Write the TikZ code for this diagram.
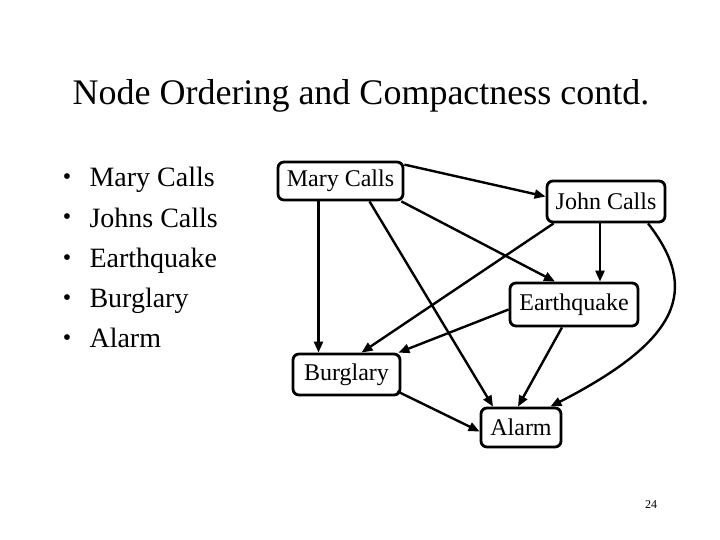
\documentclass[tikz,border=0pt]{standalone}
\usepackage{fontspec}
\setmainfont{Liberation Serif}
\usetikzlibrary{arrows.meta}
\begin{document}
\begin{tikzpicture}[x=1pt,y=-1pt,
  box/.style={draw=black,line width=2.8pt,rounded corners=6pt,fill=white,inner sep=0pt,font=\fontsize{24}{28}\selectfont},
  arr/.style={line width=2.4pt,-{Triangle[length=11pt,width=9pt]}},
  bl/.style={anchor=base west,font=\fontsize{28}{32}\selectfont}]
\useasboundingbox[fill=white] (0,0) rectangle (720,540);
\node[font=\fontsize{36}{40}\selectfont] (title) at (361,96) {Node Ordering and Compactness contd.};
% bullets
\foreach \t [count=\i] in {Mary Calls,Johns Calls,Earthquake,Burglary,Alarm}{
  \node[bl] (b\i) at (86,187+40*\i-40) {\t};
  \node[anchor=base,font=\fontsize{24}{28}\selectfont] (d\i) at (67,185+40*\i-40) {•};
}
% nodes
\node[box,minimum width=125pt,minimum height=38pt] (mary) at (340.5,181) {Mary Calls};
\node[box,minimum width=118pt,minimum height=41pt] (john) at (606,201.5) {John Calls};
\node[box,minimum width=128pt,minimum height=43pt] (eq) at (574,304.5) {Earthquake};
\node[box,minimum width=107pt,minimum height=41pt] (bur) at (346.5,374.5) {Burglary};
\node[box,minimum width=80pt,minimum height=39pt] (al) at (521,427.5) {Alarm};
% edges
\draw[arr] ([yshift=-4pt]mary.north east) -- ([yshift=5pt]john.west);
\draw[arr] ([xshift=-22pt]mary.south) -- ([xshift=-22pt]mary.south |- bur.north);
\draw[arr] ([xshift=29pt]mary.south) -- ([xshift=-28pt]al.north);
\draw[arr] ([xshift=-3pt]mary.south east) -- ([xshift=-19pt]eq.north);
\draw[arr] ([xshift=8pt]john.south west) -- ([xshift=15pt]bur.north);
\draw[arr] ([xshift=-6pt]john.south) -- ([xshift=-6pt]john.south |- eq.north);
\draw[arr] ([xshift=42pt]john.south) .. controls (700,290) and (680,340) .. ([xshift=-12pt]al.north east);
\draw[arr] ([yshift=-5pt]eq.west) -- ([xshift=-3pt]bur.north east);
\draw[arr] ([xshift=-12pt]eq.south) -- ([xshift=-3pt]al.north);
\draw[arr] ([xshift=-4pt,yshift=5pt]bur.south east) -- ([yshift=-4pt]al.west);
\node[font=\fontsize{12}{14}\selectfont] (pg) at (651,505) {24};
\end{tikzpicture}
\end{document}
